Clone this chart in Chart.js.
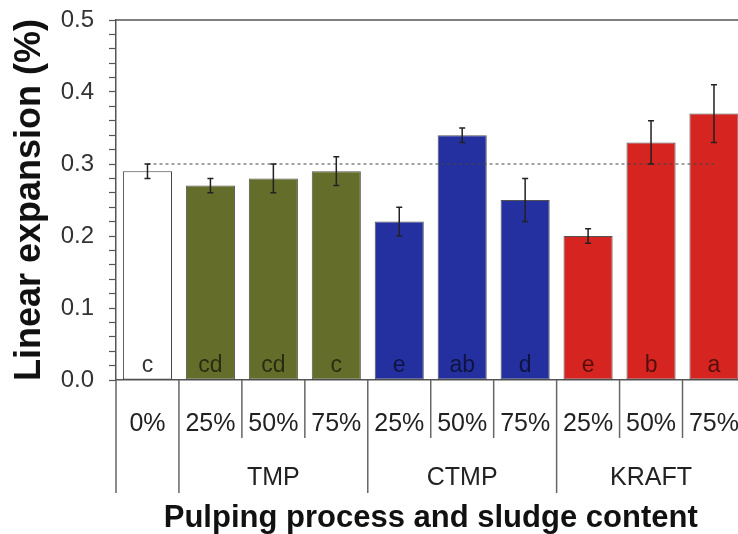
<!DOCTYPE html>
<html>
<head>
<meta charset="utf-8">
<script src="https://cdn.jsdelivr.net/npm/chart.js@4.4.0/dist/chart.umd.min.js"></script>
<style>
  html, body { margin: 0; padding: 0; background: #fff; overflow: hidden; }
  #caja { width: 760px; height: 534px; }
  #grafica { display: block; }
</style>
</head>
<body>
<div id="caja"><canvas id="grafica" width="760" height="534"></canvas></div>
<script>
// contenido de lodo por proceso de pulpa
const categorias = ['0%', '25%', '50%', '75%', '25%', '50%', '75%', '25%', '50%', '75%'];
const expansion = [0.29, 0.27, 0.28, 0.29, 0.22, 0.34, 0.25, 0.20, 0.33, 0.37];
const errores = [0.01, 0.01, 0.02, 0.02, 0.02, 0.01, 0.03, 0.01, 0.03, 0.04];
const letras = ['c', 'cd', 'cd', 'c', 'e', 'ab', 'd', 'e', 'b', 'a'];
const procesos = ['', 'TMP', 'TMP', 'TMP', 'CTMP', 'CTMP', 'CTMP', 'KRAFT', 'KRAFT', 'KRAFT'];
const referencia = 0.30;
const yTicks = [0.0, 0.1, 0.2, 0.3, 0.4, 0.5];

const relleno = {
  '': '#ffffff',
  TMP: 'rgb(100, 110, 42)',
  CTMP: 'rgb(36, 48, 160)',
  KRAFT: 'rgb(214, 36, 32)'
};

const fuente = '"Liberation Sans", Arial, sans-serif';

// barras de error, letras, linea de referencia y rotulos de grupo
const extras = {
  id: 'extras',
  afterDatasetsDraw(chart) {
    const ctx = chart.ctx;
    const x = chart.scales.x;
    const y = chart.scales.y;
    const area = chart.chartArea;

    ctx.save();
    // borde superior
    ctx.strokeStyle = '#555';
    ctx.lineWidth = 1.5;
    ctx.beginPath();
    ctx.moveTo(area.left, area.top);
    ctx.lineTo(area.right, area.top);
    ctx.lineTo(area.right, area.bottom);
    ctx.stroke();

    // linea punteada en 0.30
    ctx.strokeStyle = '#444';
    ctx.lineWidth = 1;
    ctx.setLineDash([3, 3]);
    ctx.beginPath();
    ctx.moveTo(x.getPixelForTick(0), y.getPixelForValue(referencia));
    ctx.lineTo(x.getPixelForTick(categorias.length - 1), y.getPixelForValue(referencia));
    ctx.stroke();
    ctx.setLineDash([]);

    // barras de error
    ctx.strokeStyle = '#222';
    ctx.lineWidth = 1.5;
    expansion.forEach(function (v, i) {
      const cx = x.getPixelForTick(i);
      const yTop = y.getPixelForValue(v + errores[i]);
      const yBot = y.getPixelForValue(v - errores[i]);
      ctx.beginPath();
      ctx.moveTo(cx, yTop);
      ctx.lineTo(cx, yBot);
      ctx.moveTo(cx - 3, yTop);
      ctx.lineTo(cx + 3, yTop);
      ctx.moveTo(cx - 3, yBot);
      ctx.lineTo(cx + 3, yBot);
      ctx.stroke();
    });

    // letras de significancia
    ctx.font = '23px ' + fuente;
    ctx.textAlign = 'center';
    ctx.textBaseline = 'alphabetic';
    letras.forEach(function (l, i) {
      ctx.fillStyle = i === 0 ? '#333' : 'rgba(0, 0, 0, 0.6)';
      ctx.fillText(l, x.getPixelForTick(i), area.bottom - 8);
    });

    // separadores bajo el eje x
    ctx.strokeStyle = '#666';
    ctx.lineWidth = 1.5;
    const paso = x.getPixelForTick(1) - x.getPixelForTick(0);
    for (let i = 0; i <= categorias.length; i++) {
      const bx = x.getPixelForTick(0) - paso / 2 + i * paso;
      const largo = (i === categorias.length || procesos[i] !== procesos[i - 1]) ? 113 : 58;
      ctx.beginPath();
      ctx.moveTo(bx, area.bottom);
      ctx.lineTo(bx, area.bottom + largo);
      ctx.stroke();
    }

    // nombres de proceso
    ctx.fillStyle = '#222';
    ctx.font = '25px ' + fuente;
    ctx.textBaseline = 'middle';
    ['TMP', 'CTMP', 'KRAFT'].forEach(function (p) {
      const idx = [];
      procesos.forEach(function (q, i) { if (q === p) idx.push(i); });
      const cx = (x.getPixelForTick(idx[0]) + x.getPixelForTick(idx[idx.length - 1])) / 2;
      ctx.fillText(p, cx, 478);
    });
    ctx.restore();
  }
};

new Chart(document.getElementById('grafica'), {
  type: 'bar',
  data: {
    labels: categorias,
    datasets: [{
      data: expansion,
      backgroundColor: procesos.map(function (p) { return relleno[p]; }),
      borderColor: procesos.map(function (p) { return p === '' ? '#444' : 'rgba(40, 40, 40, 0.8)'; }),
      borderWidth: 1,
      borderSkipped: false,
      barPercentage: 0.78,
      categoryPercentage: 1.0
    }]
  },
  plugins: [extras],
  options: {
    responsive: false,
    animation: false,
    layout: { padding: { left: 0, right: 0, top: 20, bottom: 0 } },
    plugins: {
      legend: { display: false },
      tooltip: { enabled: false }
    },
    scales: {
      x: {
        grid: { display: false },
        border: { display: true, color: '#555', width: 1.5 },
        ticks: {
          color: '#222',
          font: { family: fuente, size: 25 },
          padding: 21,
          maxRotation: 0,
          autoSkip: false
        },
        title: {
          display: true,
          text: 'Pulping process and sludge content',
          color: '#111',
          font: { family: fuente, size: 31, weight: 'bold', lineHeight: 1 },
          padding: { top: 5, bottom: 0 }
        },
        afterFit: function (scale) { scale.height = 154; }
      },
      y: {
        min: 0,
        max: 0.5,
        grid: {
          drawOnChartArea: false,
          drawTicks: true,
          tickLength: 7,
          tickColor: '#555',
          tickWidth: 1.2
        },
        border: { display: true, color: '#555', width: 1.5 },
        ticks: {
          stepSize: 0.02,
          autoSkip: false,
          color: '#333',
          padding: 15,
          font: { family: fuente, size: 24 },
          callback: function (value, index) {
            return index % 5 === 0 ? yTicks[index / 5].toFixed(1) : '';
          }
        },
        title: {
          display: true,
          text: 'Linear expansion (%)',
          color: '#111',
          font: { family: fuente, size: 36, weight: 'bold', lineHeight: 1 },
          padding: { top: 12, bottom: 0 }
        },
        afterFit: function (scale) {
          scale.width = 116;
          scale.paddingTop = 0;
          scale.paddingBottom = 0;
        }
      }
    }
  }
});
</script>
</body>
</html>
